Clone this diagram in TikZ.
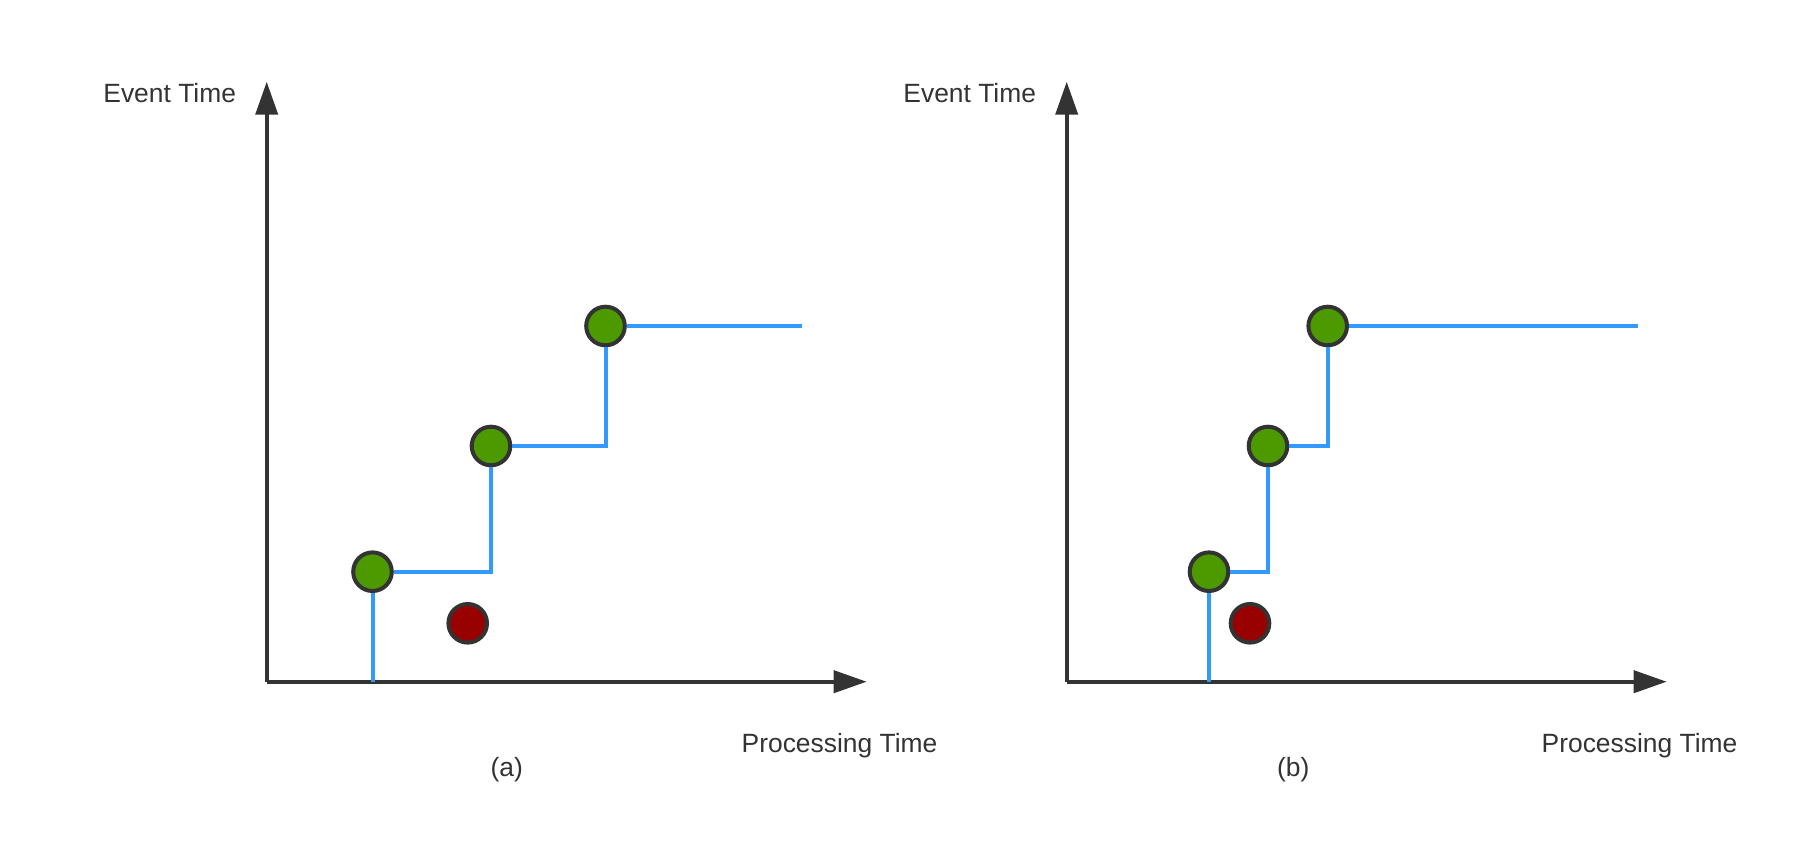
\documentclass[tikz,border=0pt]{standalone}
\usepackage{fontspec}
\setmainfont{Liberation Sans}
\usetikzlibrary{arrows.meta}
\definecolor{axisgray}{HTML}{333333}
\definecolor{stepblue}{HTML}{3399FF}
\definecolor{dotgreen}{HTML}{4D9900}
\definecolor{dotred}{HTML}{990000}
\tikzset{
  axis/.style={draw=axisgray,line width=2pt,-{Triangle[length=16.5pt,width=11pt]}},
  wm/.style={draw=stepblue,line width=2pt},
  dot/.style={circle,draw=axisgray,line width=2pt,minimum size=19.3pt,inner sep=0pt},
  label/.style={text=axisgray,font=\fontsize{13.2}{15}\selectfont,inner sep=0pt}
}
\begin{document}
\begin{tikzpicture}[x=0.5pt,y=-0.5pt]
    \useasboundingbox (0,0) rectangle (1810,856);
    \foreach \dx/\p/\xl/\xa/\xb/\xc/\xr/\xe in {0/a/506.7/372.5/491/605.5/467.7/801.7,800/b/493.3/409/468/527.7/450/837.7}{
        \begin{scope}[xshift=\dx*0.5pt]
            %% axes
            \coordinate (o\p) at (266.7,681.7);
            \coordinate (y\p) at (266.7,81.7);
            \coordinate (x\p) at (866.7,681.7);
            \draw[axis] (o\p) -- (y\p);
            \draw[axis] (o\p) -- (x\p);
            \node[label] (et\p) at (169.7,93.3) {Event Time};
            \node[label] (pt\p) at (839.5,746) {Processing Time};
            \node[label] (cap\p) at (\xl,770) {(\p)};
            %% events
            \node[dot,fill=dotgreen] (g1\p) at (\xa,571.7) {};
            \node[dot,fill=dotgreen] (g2\p) at (\xb,446) {};
            \node[dot,fill=dotgreen] (g3\p) at (\xc,326) {};
            \node[dot,fill=dotred] (r\p) at (\xr,623.3) {};
            %% watermark
            \coordinate (e\p) at (\xe,326);
            \draw[wm] (g1\p) -- (g1\p |- o\p);
            \draw[wm] (g1\p) -| (g2\p);
            \draw[wm] (g2\p) -| (g3\p);
            \draw[wm] (g3\p) -- (e\p);
        \end{scope}
    }
\end{tikzpicture}
\end{document}
